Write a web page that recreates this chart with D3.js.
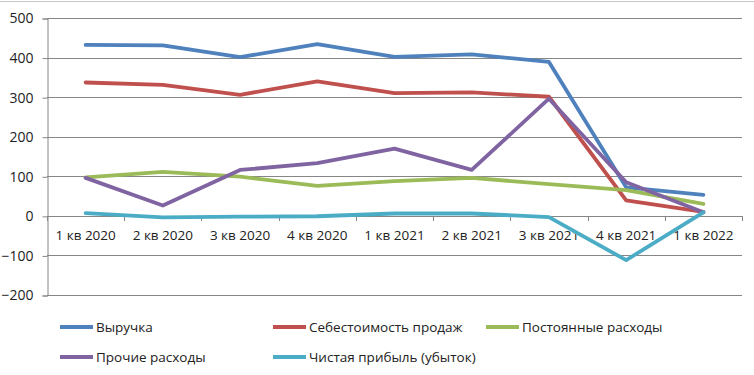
<!DOCTYPE html>
<html><head><meta charset="utf-8">
<script src="https://cdn.jsdelivr.net/npm/d3@7"></script>
<style>body{margin:0;background:#fff}svg{display:block}text{font-family:"Open Sans",sans-serif}</style>
</head><body><svg id="c" width="754" height="375"></svg>
<script>
const categories = ["1 кв 2020","2 кв 2020","3 кв 2020","4 кв 2020","1 кв 2021","2 кв 2021","3 кв 2021","4 кв 2021","1 кв 2022"];
const revenue   = [432, 431, 401, 434, 402, 408, 389, 72, 53];
const cost      = [337, 331, 306, 340, 310, 312, 301, 39, 10];
const fixedExp  = [97, 111, 99, 76, 88, 96, 80, 65, 30];
const otherExp  = [96, 26, 116, 133, 170, 116, 296, 85, 9];
const netProfit = [7, -4, -2, -1, 6, 6, -3, -112, 9];
const yTicks = [-200, -100, 0, 100, 200, 300, 400, 500];
const seriesNames = ["Выручка","Себестоимость продаж","Постоянные расходы","Прочие расходы","Чистая прибыль (убыток)"];
const seriesColors = ["#4F81BD","#C0504D","#9BBB59","#8064A2","#4BACC6"];
const seriesData = [revenue, cost, fixedExp, otherExp, netProfit];

const svg = d3.select("#c");
const L = 47, R = 742, T = 18, B = 295;
const x = d3.scaleBand().domain(categories).range([L, R]);
const y = d3.scaleLinear().domain([-200, 500]).range([B, T]);

svg.append("line").attr("x1",0).attr("x2",754).attr("y1",1.5).attr("y2",1.5).attr("stroke","#c8c8c8");

// gridlines
svg.append("g").selectAll("line").data(yTicks).join("line")
  .attr("x1", L).attr("x2", R).attr("y1", d => Math.round(y(d))+0.5).attr("y2", d => Math.round(y(d))+0.5)
  .attr("stroke", "#868686").attr("stroke-width", 1);

// y axis
const ya = d3.axisLeft(y).tickValues(yTicks).tickSize(5).tickPadding(9).tickFormat(d3.format("d"));
const gy = svg.append("g").attr("transform", `translate(${L+0.5},0.5)`).call(ya);
gy.select(".domain").attr("stroke","#868686");
gy.selectAll(".tick line").attr("stroke","#868686");
gy.selectAll("text").attr("font-size", 14).attr("fill","#222").attr("font-family","Open Sans, sans-serif");

// x axis at zero
const xa = d3.axisBottom(x).tickSize(0).tickPadding(14);
const gx = svg.append("g").attr("transform", `translate(0,${Math.round(y(0))+0.5})`).call(xa);
gx.select(".domain").remove();
gx.selectAll("text").attr("font-size", 13.5).attr("fill","#222").attr("font-family","Open Sans, sans-serif");
const bounds = d3.range(categories.length + 1).map(i => L + i * x.bandwidth());
svg.append("g").selectAll("line").data(bounds).join("line")
  .attr("x1", d => Math.round(d)+0.5).attr("x2", d => Math.round(d)+0.5)
  .attr("y1", Math.round(y(0))).attr("y2", Math.round(y(0))+5).attr("stroke","#868686");

// lines
const line = d3.line().x((d,i) => x(categories[i]) + x.bandwidth()/2).y(d => y(d));
seriesData.forEach((s, k) => {
  svg.append("path").datum(s).attr("d", line).attr("fill","none")
    .attr("stroke", seriesColors[k]).attr("stroke-width", 3.8).attr("stroke-linejoin","round").attr("stroke-linecap","round");
});

// legend
const legPos = [[60,327],[273,327],[486,327],[60,357],[273,357]];
seriesNames.forEach((n, k) => {
  const [lx, ly] = legPos[k];
  svg.append("line").attr("x1", lx).attr("x2", lx+33).attr("y1", ly).attr("y2", ly)
    .attr("stroke", seriesColors[k]).attr("stroke-width", 3.8);
  svg.append("text").attr("x", lx+36).attr("y", ly+5).attr("font-size", 13.5).attr("fill","#222").text(n);
});
</script></body></html>
